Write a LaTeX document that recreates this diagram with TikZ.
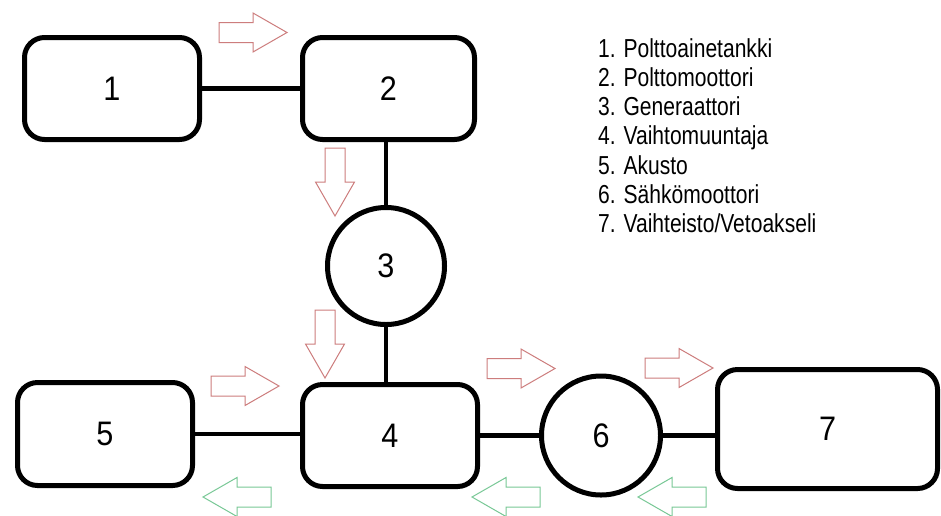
\documentclass[tikz,border=0pt]{standalone}
\usepackage{fontspec}
\setmainfont{Liberation Sans}
\newfontfamily\legendfont[FakeStretch=0.81]{Liberation Sans}
\newfontfamily\numfont[FakeStretch=0.9]{Liberation Sans}
\definecolor{redarr}{RGB}{205,125,125}
\definecolor{greenarr}{RGB}{120,200,150}
\tikzset{
  box/.style={draw=black, line width=5pt, rounded corners=20pt, inner sep=0pt,
    font=\numfont\fontsize{34}{38}\selectfont},
  circ/.style={draw=black, line width=5pt, circle, inner sep=0pt,
    font=\numfont\fontsize{34}{38}\selectfont},
  link/.style={draw=black, line width=4.5pt},
  fatarrow/.pic={\draw[pic actions, line width=1pt, line join=miter]
     (0,-10) -- (34,-10) -- (34,-19.5) -- (68,0) -- (34,19.5) -- (34,10) -- (0,10) -- cycle;},
  redarrow/.style={draw=redarr},
  greenarrow/.style={draw=greenarr}
}
\begin{document}
\begin{tikzpicture}[x=1pt,y=-1pt]
\useasboundingbox[fill=white] (0,0) rectangle (941,515);
% nodes
\node[box, minimum width=175pt, minimum height=102pt] (b1) at (112,88.5) {1};
\node[box, minimum width=172pt, minimum height=102pt] (b2) at (388.5,88.5) {2};
\node[circ, minimum size=117pt] (c3) at (386,266) {3};
\node[box, minimum width=175pt, minimum height=102pt] (b4) at (390,435.5) {4};
\node[box, minimum width=175pt, minimum height=103pt] (b5) at (105,434) {5};
\node[circ, minimum size=119pt] (c6) at (601,435.5) {6};
\node[box, minimum width=220pt, minimum height=119pt] (b7) at (827.5,429) {7};
% connectors
\draw[link] (b1.east) -- (b2.west);
\draw[link] (c3.north |- b2.south) -- (c3.north);
\draw[link] (c3.south) -- (c3.south |- b4.north);
\draw[link] (b5.east) -- (b5.east -| b4.west);
\draw[link] (b4.east |- c6.west) -- (c6.west);
\draw[link] (c6.east) -- (c6.east -| b7.west);
% flow arrows
\pic[redarrow] at (219,32.5) {fatarrow};
\pic[redarrow, rotate=-90] at (335,148) {fatarrow};
\pic[redarrow, rotate=-90] at (325,310) {fatarrow};
\pic[redarrow] at (211,386) {fatarrow};
\pic[redarrow] at (487,368.5) {fatarrow};
\pic[redarrow] at (645,368) {fatarrow};
\pic[greenarrow, rotate=180] at (271,497) {fatarrow};
\pic[greenarrow, rotate=180] at (540,497) {fatarrow};
\pic[greenarrow, rotate=180] at (706,497) {fatarrow};
% legend (anchored at the baseline of its last line)
\node[anchor=base west, align=left, inner sep=0pt,
  font=\legendfont\fontsize{26}{29.2}\selectfont] (legend) at (598,232.5)
  {1. Polttoainetankki\\
   2. Polttomoottori\\
   3. Generaattori\\
   4. Vaihtomuuntaja\\
   5. Akusto\\
   6. Sähkömoottori\\
   7. Vaihteisto/Vetoakseli};
\end{tikzpicture}
\end{document}
